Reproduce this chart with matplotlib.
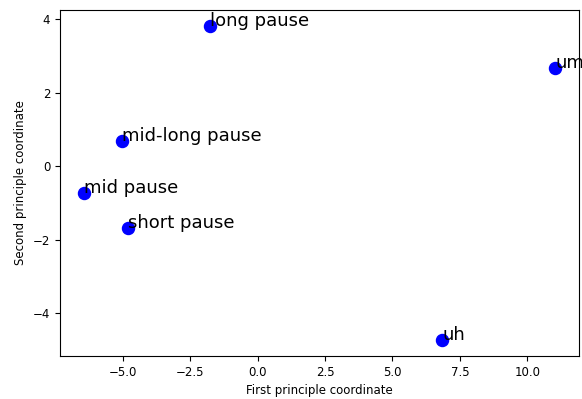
import matplotlib
matplotlib.use("Agg")
import matplotlib.pyplot as plt

labels = ["long pause", "um", "mid-long pause", "mid pause", "short pause", "uh"]
x_vals = [-1.77, 11.04, -5.01, -6.45, -4.80, 6.84]
y_vals = [3.82, 2.68, 0.68, -0.74, -1.69, -4.73]

fig = plt.figure(figsize=(5.82, 3.99), dpi=100)
ax = fig.add_axes([60 / 582, 43 / 399, 519 / 582, 346 / 399])

ax.scatter(x_vals, y_vals, s=75, c="blue")
for lab, x, y in zip(labels, x_vals, y_vals):
    ax.annotate(lab, (x, y), fontsize=13)  # text starts at the point

ax.set_xlabel("First principle coordinate", fontsize=8.5)
ax.set_ylabel("Second principle coordinate", fontsize=8.5)
ax.tick_params(labelsize=8.5)

fig.savefig("out.png", dpi=100)
